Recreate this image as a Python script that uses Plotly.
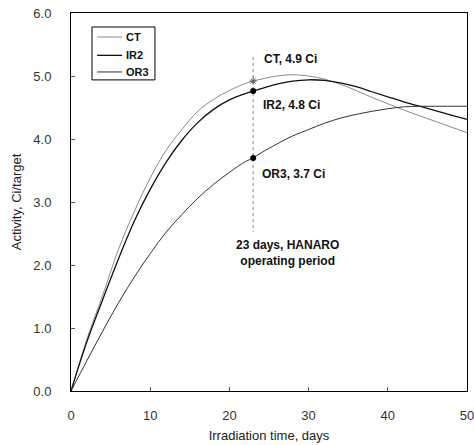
import plotly.graph_objects as go

days = [0, 2, 4, 6, 8, 10, 12, 14, 16, 18, 20, 22, 23, 24, 26, 28, 30, 32, 34, 36, 38, 40, 42, 44, 46, 48, 50]
ct = [0, 0.82, 1.52, 2.25, 2.85, 3.38, 3.82, 4.15, 4.44, 4.63, 4.77, 4.88, 4.92, 4.95, 5.0, 5.02, 5.0, 4.95, 4.87, 4.77, 4.66, 4.56, 4.46, 4.37, 4.28, 4.19, 4.1]
ir2 = [0, 0.78, 1.45, 2.1, 2.7, 3.2, 3.63, 3.98, 4.26, 4.47, 4.62, 4.72, 4.76, 4.8, 4.87, 4.92, 4.94, 4.93, 4.89, 4.83, 4.75, 4.67, 4.59, 4.52, 4.45, 4.38, 4.31]
or3 = [0, 0.48, 0.95, 1.4, 1.81, 2.18, 2.52, 2.8, 3.06, 3.28, 3.47, 3.64, 3.7, 3.78, 3.92, 4.05, 4.15, 4.25, 4.33, 4.39, 4.44, 4.48, 4.51, 4.52, 4.52, 4.52, 4.52]

series_names = ["CT", "IR2", "OR3"]
op_day = 23
op_ct, op_ir2, op_or3 = 4.92, 4.76, 3.7
op_line_range = [5.3, 2.52]
x_ticks = [0, 10, 20, 30, 40, 50]
y_ticks = [0, 1, 2, 3, 4, 5, 6]

font = "Liberation Sans, Arial, sans-serif"
styles = [dict(color="#8a8a8a", width=1), dict(color="#111111", width=1.3), dict(color="#333333", width=1)]

fig = go.Figure()
for name, vals, st in zip(series_names, [ct, ir2, or3], styles):
    fig.add_trace(go.Scatter(x=days, y=vals, mode="lines", name=name, showlegend=False,
                             line=dict(color=st["color"], width=st["width"], shape="spline")))
# operating period line
fig.add_trace(go.Scatter(x=[op_day, op_day], y=op_line_range, mode="lines", showlegend=False,
                         line=dict(color="#888888", width=1, dash="dot")))
fig.add_trace(go.Scatter(x=[op_day], y=[op_ct], mode="markers", showlegend=False,
                         marker=dict(symbol="asterisk-open", size=6, color="#555555", line=dict(width=1, color="#555555"))))
fig.add_trace(go.Scatter(x=[op_day, op_day], y=[op_ir2, op_or3], mode="markers", showlegend=False,
                         marker=dict(symbol="circle", size=6, color="#000000")))

ann_font = dict(family=font, size=12, color="#111111")
fig.add_annotation(x=op_day, y=op_ct, xshift=9, yshift=22, text="<b>CT, 4.9 Ci</b>", showarrow=False,
                   xanchor="left", yanchor="middle", font=ann_font)
fig.add_annotation(x=op_day, y=op_ir2, xshift=8, yshift=-14, text="<b>IR2, 4.8 Ci</b>", showarrow=False,
                   xanchor="left", yanchor="middle", font=ann_font)
fig.add_annotation(x=op_day, y=op_or3, xshift=7, yshift=-16, text="<b>OR3, 3.7 Ci</b>", showarrow=False,
                   xanchor="left", yanchor="middle", font=ann_font)
fig.add_annotation(x=op_day, y=op_line_range[1], xshift=34, yshift=-21,
                   text="<b>23 days, HANARO<br>operating period</b>", showarrow=False,
                   xanchor="center", yanchor="middle", align="center", font=ann_font)

# legend box (drawn in paper coordinates)
fig.add_shape(type="rect", xref="paper", yref="paper", x0=0.053, x1=0.212, y0=0.823, y1=0.963,
              line=dict(color="#000000", width=1), fillcolor="white", layer="above")
legend_rows = [0.9365, 0.888, 0.844]
for name, st, yy in zip(series_names, styles, legend_rows):
    fig.add_shape(type="line", xref="paper", yref="paper", x0=0.066, x1=0.129, y0=yy, y1=yy,
                  line=dict(color=st["color"], width=st["width"]), layer="above")
    fig.add_annotation(xref="paper", yref="paper", x=0.134, y=yy, text="<b>" + name + "</b>",
                       showarrow=False, xanchor="left", yanchor="middle",
                       font=dict(family=font, size=11, color="#111111"))

axis_common = dict(showline=True, linecolor="#000000", linewidth=1, mirror=True, automargin=False,
                   ticks="inside", ticklen=4, tickcolor="#555555", showgrid=False, zeroline=False,
                   ticklabeloverflow="allow",
                   tickfont=dict(family=font, size=13, color="#333333"))
fig.update_xaxes(range=[0, 50], tickvals=x_ticks, ticklabelstandoff=12,
                 title=dict(text="Irradiation time, days", standoff=9,
                            font=dict(family=font, size=13, color="#222222")), **axis_common)
fig.update_yaxes(range=[0, 6], tickvals=y_ticks, tickformat=".1f", ticklabelstandoff=16,
                 title=dict(text="Activity, Ci/target", standoff=8,
                            font=dict(family=font, size=13, color="#222222")), **axis_common)

fig.update_layout(
    width=474, height=445,
    margin=dict(l=71, r=7, t=13, b=54, autoexpand=False),
    paper_bgcolor="white", plot_bgcolor="white",
    showlegend=False,
    font=dict(family=font),
)
fig.write_html("out.html", config={"displayModeBar": False},
               post_script="document.body.style.margin='0px';")
